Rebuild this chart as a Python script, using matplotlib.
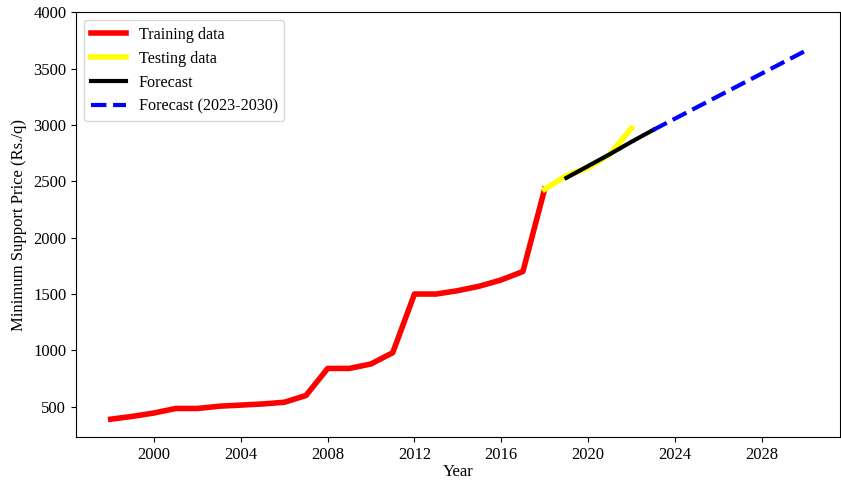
import matplotlib
matplotlib.use("Agg")
import matplotlib.pyplot as plt

train_years = list(range(1998, 2019))
train_msp = [390, 415, 445, 485, 485, 505, 515, 525, 540, 600, 840,
             840, 880, 980, 1500, 1500, 1530, 1570, 1625, 1700, 2430]

test_years = [2018, 2019, 2020, 2021, 2022]
test_msp = [2430, 2550, 2620, 2738, 2970]

fc_years = [2019, 2020, 2021, 2022, 2023]
fc_msp = [2530, 2635, 2740, 2850, 2955]

future_years = [2023, 2024, 2025, 2026, 2027, 2028, 2029, 2030]
future_msp = [2955, 3055, 3155, 3255, 3355, 3455, 3555, 3655]

plt.rcParams["font.family"] = ["Liberation Serif", "DejaVu Serif"]

fig = plt.figure(figsize=(8.41, 4.8), dpi=100)
ax = fig.add_axes([0.0904, 0.0896, 0.908, 0.885])

ax.plot(train_years, train_msp, color="red", linewidth=4, label="Training data")
ax.plot(test_years, test_msp, color="yellow", linewidth=4, label="Testing data")
ax.plot(fc_years, fc_msp, color="black", linewidth=3, label="Forecast")
ax.plot(future_years, future_msp, color="blue", linewidth=3, linestyle="--",
        label="Forecast (2023-2030)")

ax.set_ylim(232, 4000)
ax.set_xticks(range(2000, 2030, 4))
ax.set_yticks(range(500, 4001, 500))
ax.tick_params(labelsize=12)
ax.set_xlabel("Year", fontsize=12, labelpad=1)
ax.set_ylabel("Minimum Support Price (Rs./q)", fontsize=12)
ax.legend(loc="upper left", fontsize=11.6, handlelength=2.2)

fig.savefig("out.png", dpi=100)
